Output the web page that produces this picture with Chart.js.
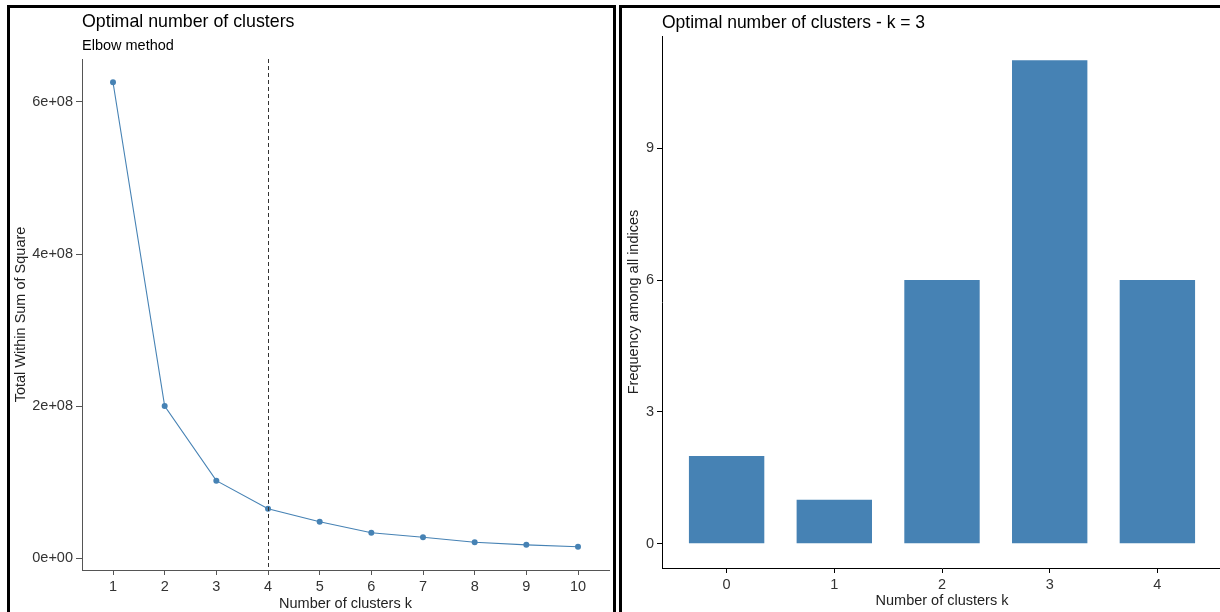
<!DOCTYPE html>
<html>
<head>
<meta charset="utf-8">
<script src="https://cdn.jsdelivr.net/npm/chart.js@4/dist/chart.umd.min.js"></script>
<style>
  html, body { margin: 0; padding: 0; background: #fff; overflow: hidden; }
  body { width: 1220px; height: 612px; position: relative; }
  .panel { position: absolute; box-sizing: border-box; border: 3px solid #000; height: 640px; }
  #panelL { left: 7px; top: 5px; width: 609px; }
  #panelR { left: 619px; top: 5px; width: 640px; }
  canvas { position: absolute; }
  #elbow { left: 10px; top: 8px; }
  #freq { left: 623px; top: 8px; }
</style>
</head>
<body>
<div class="panel" id="panelL"></div>
<div class="panel" id="panelR"></div>
<canvas id="elbow" width="603" height="604"></canvas>
<canvas id="freq" width="600" height="604"></canvas>
<script>
// elbow method: total within sum of squares per k
const elbowK = [1, 2, 3, 4, 5, 6, 7, 8, 9, 10];
const elbowWss = [6.26e8, 2.0e8, 1.02e8, 0.65e8, 0.48e8, 0.335e8, 0.275e8, 0.21e8, 0.175e8, 0.15e8];
const optimalK = 4;
const wssTicks = [0, 2e8, 4e8, 6e8];
const wssTickLabels = ["0e+00", "2e+08", "4e+08", "6e+08"];

// frequency of the chosen k among all indices
const freqK = [0, 1, 2, 3, 4];
const freqCounts = [2, 1, 6, 11, 6];
const freqTicks = [0, 3, 6, 9];

const steel = "#4682B4";
Chart.defaults.font.family = "'Liberation Sans', Arial, sans-serif";
Chart.defaults.color = "#333";

// ggplot style expansion: 5% continuous, 0.6 for discrete
const expand = (vals) => {
  const lo = Math.min(...vals), hi = Math.max(...vals);
  const pad = (hi - lo) * 0.05;
  return { min: lo - pad, max: hi + pad };
};

const titlePlugin = {
  id: "panelTitles",
  afterDraw(chart, args, opts) {
    const ctx = chart.ctx;
    ctx.save();
    ctx.fillStyle = "#000";
    ctx.textBaseline = "alphabetic";
    ctx.textAlign = "left";
    opts.lines.forEach((l) => {
      ctx.font = l.size + "px 'Liberation Sans', Arial, sans-serif";
      ctx.fillText(l.text, chart.chartArea.left, l.y);
    });
    ctx.restore();
  },
};

const vlinePlugin = {
  id: "optimalLine",
  afterDatasetsDraw(chart, args, opts) {
    if (!opts.value) return;
    const x = Math.round(chart.scales.x.getPixelForValue(opts.value)) + 0.5;
    const ctx = chart.ctx;
    ctx.save();
    ctx.strokeStyle = "#333";
    ctx.lineWidth = 1;
    ctx.setLineDash([4, 3]);
    ctx.beginPath();
    ctx.moveTo(x, chart.chartArea.top);
    ctx.lineTo(x, chart.chartArea.bottom);
    ctx.stroke();
    ctx.restore();
  },
};

const wssRange = expand(elbowWss);

new Chart(document.getElementById("elbow").getContext("2d"), {
  type: "line",
  data: {
    datasets: [
      {
        data: elbowK.map((k, i) => ({ x: k, y: elbowWss[i] })),
        borderColor: steel,
        borderWidth: 1.1,
        pointRadius: 3,
        pointBackgroundColor: steel,
        pointBorderWidth: 0,
        tension: 0,
      },
    ],
  },
  options: {
    responsive: false,
    animation: false,
    layout: { padding: { top: 51, left: 0, right: 1, bottom: 0 } },
    plugins: {
      legend: { display: false },
      tooltip: { enabled: false },
      panelTitles: {
        lines: [
          { text: "Optimal number of clusters", size: 17.8, y: 19 },
          { text: "Elbow method", size: 14.5, y: 42 },
        ],
      },
      optimalLine: { value: optimalK },
    },
    scales: {
      x: {
        type: "linear",
        min: elbowK[0] - 0.6,
        max: elbowK[elbowK.length - 1] + 0.6,
        afterBuildTicks: (s) => {
          s.ticks = elbowK.map((v) => ({ value: v }));
        },
        afterFit: (s) => {
          s.height = 42;
        },
        ticks: { font: { size: 14.5 }, padding: 3, color: "#333" },
        grid: { drawOnChartArea: false, tickLength: 5, color: "#555" },
        border: { color: "#555", width: 1 },
        title: {
          display: true,
          text: "Number of clusters k",
          color: "#222",
          font: { size: 14.5, lineHeight: 1.1 },
          padding: 0,
        },
      },
      y: {
        min: wssRange.min,
        max: wssRange.max,
        afterBuildTicks: (s) => {
          s.ticks = wssTicks.map((v) => ({ value: v }));
        },
        afterFit: (s) => {
          s.width = 72;
        },
        ticks: {
          font: { size: 14.5 },
          padding: 3,
          color: "#333",
          callback: (v) => wssTickLabels[wssTicks.indexOf(v)],
        },
        grid: { drawOnChartArea: false, tickLength: 6, color: "#555" },
        border: { color: "#555", width: 1 },
        title: {
          display: true,
          text: "Total Within Sum of Square",
          color: "#222",
          font: { size: 14.5 },
          padding: { top: 2, bottom: 0 },
        },
      },
    },
  },
  plugins: [titlePlugin, vlinePlugin],
});

const freqRange = expand([0, ...freqCounts]);

new Chart(document.getElementById("freq").getContext("2d"), {
  type: "bar",
  data: {
    datasets: [
      {
        data: freqK.map((k, i) => ({ x: k, y: freqCounts[i] })),
        backgroundColor: steel,
        borderWidth: 0,
        barPercentage: 0.7,
        categoryPercentage: 1,
      },
    ],
  },
  options: {
    responsive: false,
    animation: false,
    layout: { padding: { top: 28, left: 0, right: 1, bottom: 0 } },
    plugins: {
      legend: { display: false },
      tooltip: { enabled: false },
      panelTitles: {
        lines: [{ text: "Optimal number of clusters - k = 3", size: 17.5, y: 19.5 }],
      },
    },
    scales: {
      x: {
        type: "linear",
        offset: false,
        min: freqK[0] - 0.6,
        max: freqK[freqK.length - 1] + 0.6,
        afterBuildTicks: (s) => {
          s.ticks = freqK.map((v) => ({ value: v }));
        },
        afterFit: (s) => {
          s.height = 44;
        },
        ticks: { font: { size: 14.5 }, padding: 3, color: "#333" },
        grid: { offset: false, drawOnChartArea: false, tickLength: 5, color: "#000" },
        border: { color: "#000", width: 1 },
        title: {
          display: true,
          text: "Number of clusters k",
          color: "#222",
          font: { size: 14.5 },
          padding: { top: 0, bottom: 2 },
        },
      },
      y: {
        min: freqRange.min,
        max: freqRange.max,
        afterBuildTicks: (s) => {
          s.ticks = freqTicks.map((v) => ({ value: v }));
        },
        afterFit: (s) => {
          s.width = 39;
        },
        ticks: { font: { size: 14.5 }, padding: 3, color: "#333" },
        grid: { drawOnChartArea: false, tickLength: 5, color: "#000" },
        border: { color: "#000", width: 1 },
        title: {
          display: true,
          text: "Frequency among all indices",
          color: "#222",
          font: { size: 14.5 },
          padding: { top: 2, bottom: 0 },
        },
      },
    },
  },
  plugins: [titlePlugin],
});
</script>
</body>
</html>
